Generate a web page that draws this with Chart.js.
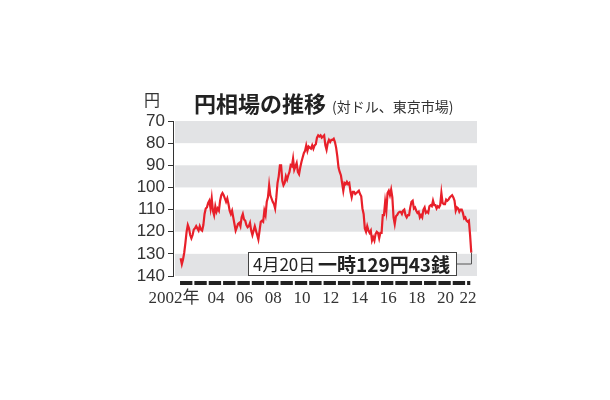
<!DOCTYPE html>
<html lang="ja">
<head>
<meta charset="utf-8">
<script src="https://cdn.jsdelivr.net/npm/chart.js@4"></script>
<style>
  html, body { margin: 0; padding: 0; background: #ffffff; }
  #wrap { position: relative; width: 610px; height: 400px; }
  canvas { display: block; }
</style>
</head>
<body>
<div id="wrap"><canvas id="c" width="610" height="400"></canvas></div>
<script>
// ---- data (monthly USD/JPY, Tokyo market) ----
const startYear = 2002;
const rates2002 = [132.0,134.6,132.5,129.5,125.0,120.0,117.0,118.5,121.5,123.0,121.5,119.0];
const rates2003 = [118.5,117.5,118.5,119.5,117.5,119.0,119.5,117.0,112.0,109.5,109.0,107.0];
const rates2004 = [106.0,109.5,105.0,110.5,112.5,108.5,111.0,109.5,110.5,106.0,103.5,102.5];
const rates2005 = [103.5,105.0,106.5,105.0,107.5,110.5,112.0,110.5,113.5,116.5,119.5,118.0];
const rates2006 = [116.5,116.0,117.5,113.5,112.0,114.5,115.0,117.0,118.0,117.5,116.0,119.5];
const rates2007 = [121.5,119.5,117.5,119.5,121.5,123.5,119.5,115.5,115.0,115.5,110.5,112.5];
const rates2008 = [106.5,104.5,99.0,103.5,105.0,106.5,107.5,109.5,104.5,98.0,95.0,90.0];
const rates2009 = [90.0,97.0,99.0,98.0,95.0,96.5,94.5,93.0,90.0,90.5,87.0,92.0];
const rates2010 = [90.5,89.0,93.0,94.0,91.0,88.5,86.5,84.5,83.5,81.0,83.5,81.5];
const rates2011 = [82.0,82.5,81.0,82.5,81.0,80.5,77.5,76.5,77.0,76.5,77.5,77.0];
const rates2012 = [76.5,81.0,83.0,80.0,78.5,79.5,78.5,78.5,78.0,79.5,82.0,86.0];
const rates2013 = [91.0,93.0,94.5,98.0,101.5,98.0,98.5,97.5,98.5,98.0,102.0,104.5];
const rates2014 = [102.0,102.0,103.0,102.5,102.0,101.5,103.0,104.0,109.5,112.0,118.5,120.0];
const rates2015 = [117.5,119.5,120.5,119.5,124.0,122.5,124.0,121.0,120.0,120.5,123.0,120.5];
const rates2016 = [120.5,112.5,112.5,106.5,110.5,102.5,101.5,103.5,101.0,104.5,113.5,116.5];
const rates2017 = [113.0,112.5,111.5,111.0,111.0,112.0,110.5,110.0,112.5,113.5,112.5,112.5];
const rates2018 = [109.0,106.5,106.0,109.5,109.0,110.5,111.5,111.0,113.5,112.5,113.5,110.0];
const rates2019 = [109.0,111.5,111.0,111.5,108.5,108.0,108.5,106.0,108.0,108.0,109.5,108.5];
const rates2020 = [109.0,108.0,102.5,107.0,107.5,107.5,105.5,106.0,105.5,104.5,104.0,103.5];
const rates2021 = [104.5,106.0,110.5,109.0,109.5,111.0,110.0,110.0,111.5,114.0,113.5,115.0];
const rates2022 = [115.5,115.0,121.5,129.43];

const yearlyRates = [rates2002,rates2003,rates2004,rates2005,rates2006,rates2007,rates2008,
  rates2009,rates2010,rates2011,rates2012,rates2013,rates2014,rates2015,rates2016,rates2017,
  rates2018,rates2019,rates2020,rates2021,rates2022];

const yTicks = [70,80,90,100,110,120,130,140];
const xTickYears = [2002,2004,2006,2008,2010,2012,2014,2016,2018,2020,2022];
const xTickLabels = ['2002年','04','06','08','10','12','14','16','18','20','22'];
const titleText = '円相場の推移';
const subtitleText = '(対ドル、東京市場)';
const unitText = '円';
const noteDate = '4月20日';
const noteValue = '一時129円43銭';

// ---- build points from the arrays ----
const points = [];
yearlyRates.forEach((arr, yi) => {
  arr.forEach((v, mi) => {
    points.push({ x: startYear + yi + (mi + 0.5) / 12, y: v });
  });
});

const X_MIN = 2001.51, X_MAX = 2022.69;
const lastYearIdx = xTickYears.length - 1;
function labelPos(year, i) {
  if (i === 0) return year - 0.42;
  if (i === lastYearIdx) return year + 0.07;
  return year + 0.5;
}

const textColor = '#333333';

const decorPlugin = {
  id: 'decor',
  beforeDatasetsDraw(chart) {
    const { ctx, chartArea } = chart;
    const ys = chart.scales.y;
    ctx.save();
    ctx.fillStyle = '#e2e3e5';
    for (let i = 0; i < yTicks.length - 1; i += 2) {
      const t = ys.getPixelForValue(yTicks[i]);
      const b = ys.getPixelForValue(yTicks[i + 1]);
      ctx.fillRect(chartArea.left + 2, t, chartArea.right - chartArea.left - 2, b - t);
    }
    ctx.restore();
  },
  afterDatasetsDraw(chart) {
    const { ctx, chartArea } = chart;
    const xs = chart.scales.x, ys = chart.scales.y;
    ctx.save();
    // year dashes under the plot
    ctx.fillStyle = '#222222';
    const lastX = points[points.length - 1].x;
    for (let yr = startYear; yr <= 2022; yr++) {
      const x0 = xs.getPixelForValue(yr);
      const x1 = Math.min(xs.getPixelForValue(yr + 1), xs.getPixelForValue(lastX) + 1) - 2;
      ctx.fillRect(x0, chartArea.bottom + 5, x1 - x0, 4);
    }
    // annotation box
    const bx = 248, by = 252, bw = 208, bh = 23;
    ctx.fillStyle = '#ffffff';
    ctx.fillRect(bx, by, bw, bh);
    ctx.strokeStyle = '#444444';
    ctx.lineWidth = 1;
    ctx.strokeRect(bx + 0.5, by + 0.5, bw, bh);
    ctx.fillStyle = '#222222';
    ctx.textBaseline = 'middle';
    ctx.font = '400 17px "Noto Sans CJK JP", sans-serif';
    ctx.fillText(noteDate, bx + 5, by + bh / 2 + 1);
    ctx.font = '700 19px "Noto Sans CJK JP", sans-serif';
    ctx.fillText(noteValue, bx + 70, by + bh / 2 + 1);
    // connector to last data point
    const px = Math.round(xs.getPixelForValue(lastX)) + 0.5;
    const py = ys.getPixelForValue(points[points.length - 1].y);
    const cy = by + bh / 2 + 0.5;
    ctx.strokeStyle = '#555555';
    ctx.beginPath();
    ctx.moveTo(bx + bw + 1, cy);
    ctx.lineTo(px, cy);
    ctx.lineTo(px, py);
    ctx.stroke();
    // title, subtitle, unit
    ctx.fillStyle = '#222222';
    ctx.textBaseline = 'middle';
    ctx.font = '700 22px "Noto Sans CJK JP", sans-serif';
    ctx.fillText(titleText, 194, 104);
    ctx.fillStyle = textColor;
    ctx.font = '400 14px "Noto Sans CJK JP", sans-serif';
    ctx.fillText(subtitleText, 332, 107);
    ctx.textAlign = 'center';
    ctx.font = '400 16px "Noto Sans CJK JP", sans-serif';
    ctx.fillText(unitText, 152, 100);
    ctx.restore();
  }
};

new Chart(document.getElementById('c'), {
  type: 'line',
  data: {
    datasets: [{
      data: points,
      borderColor: '#e8202a',
      borderWidth: 2.2,
      pointRadius: 0,
      tension: 0,
      fill: false
    }]
  },
  options: {
    responsive: false,
    animation: false,
    devicePixelRatio: 1,
    layout: { padding: { left: 100, top: 121, right: 133, bottom: 80 } },
    plugins: { legend: { display: false }, tooltip: { enabled: false }, title: { display: false } },
    scales: {
      x: {
        type: 'linear',
        min: X_MIN,
        max: X_MAX,
        grid: { display: false, drawTicks: false },
        border: { display: false },
        afterBuildTicks: (scale) => {
          scale.ticks = xTickYears.map((y, i) => ({ value: labelPos(y, i) }));
        },
        afterFit: (scale) => { scale.height = 400 - 276 - 80; },
        ticks: {
          autoSkip: false,
          maxRotation: 0,
          padding: 12,
          color: textColor,
          font: { family: '"Liberation Serif", "Noto Sans CJK JP", serif', size: 17 },
          callback: (v, i) => xTickLabels[i]
        }
      },
      y: {
        type: 'linear',
        reverse: true,
        min: 70,
        max: 140,
        afterBuildTicks: (scale) => { scale.ticks = yTicks.map(v => ({ value: v })); },
        afterFit: (scale) => { scale.width = 173 - 100; },
        grid: { drawOnChartArea: false, drawTicks: true, tickLength: 5, color: '#333333', lineWidth: 1 },
        border: { display: true, color: '#333333', width: 1 },
        ticks: {
          autoSkip: false,
          padding: 3,
          color: textColor,
          font: { family: '"Liberation Sans", Arial, sans-serif', size: 17 },
          callback: (v) => String(v)
        }
      }
    }
  },
  plugins: [decorPlugin]
});
</script>
</body>
</html>
